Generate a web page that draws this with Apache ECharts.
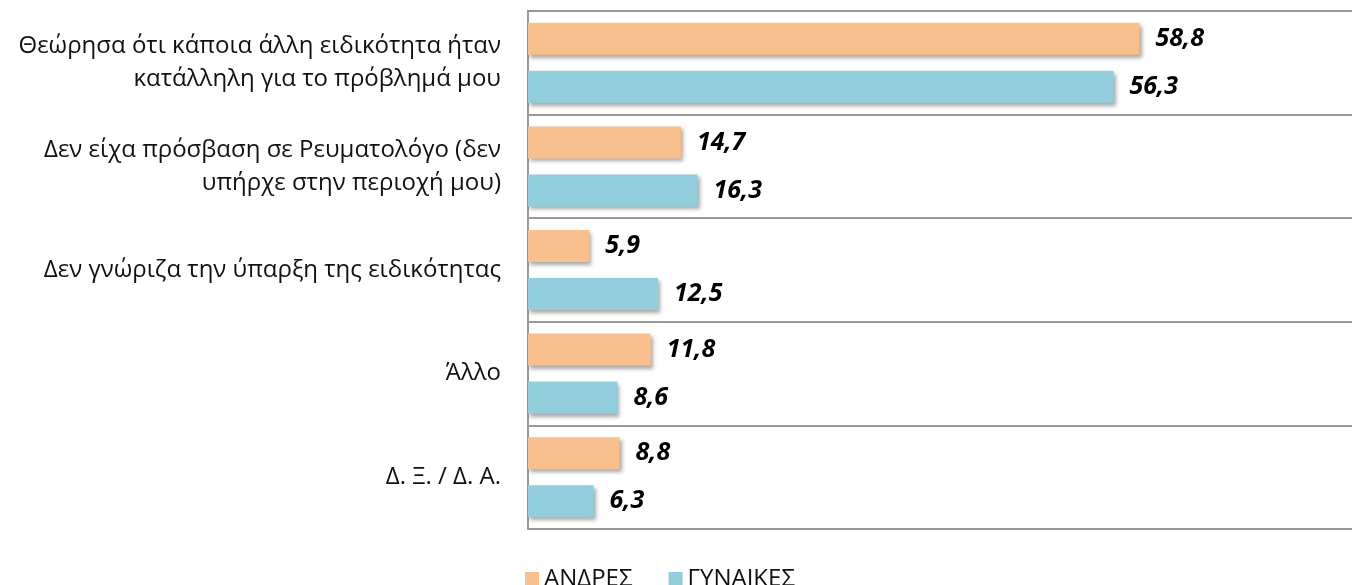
<!DOCTYPE html>
<html>
<head>
<meta charset="utf-8">
<script src="https://cdn.jsdelivr.net/npm/echarts@6/dist/echarts.min.js"></script>
<style>
  html, body { margin: 0; padding: 0; background: #fff; overflow: hidden; }
  /* plot area runs past the right edge of the window, as in the reference */
  #chart { width: 1362px; height: 585px; }
</style>
</head>
<body>
<div id="chart"></div>
<script>
// categories, top to bottom
var categories = [
  'Θεώρησα ότι κάποια άλλη ειδικότητα ήταν\nκατάλληλη για το πρόβλημά μου',
  'Δεν είχα πρόσβαση σε Ρευματολόγο (δεν\nυπήρχε στην περιοχή μου)',
  'Δεν γνώριζα την ύπαρξη της ειδικότητας',
  'Άλλο',
  'Δ. Ξ. / Δ. Α.'
];
var seriesNames = ['ΑΝΔΡΕΣ', 'ΓΥΝΑΙΚΕΣ'];
var men = [58.8, 14.7, 5.9, 11.8, 8.8];
var women = [56.3, 16.3, 12.5, 8.6, 6.3];

var FONT = '"Open Sans", sans-serif';

function barSeries(name, data, color) {
  return {
    name: name,
    type: 'bar',
    data: data,
    barWidth: 32,
    barGap: '50%',
    itemStyle: {
      color: color,
      shadowColor: 'rgba(0,0,0,0.35)',
      shadowBlur: 4,
      shadowOffsetX: 2,
      shadowOffsetY: 3
    },
    label: {
      show: true,
      position: 'right',
      distance: 16,
      color: '#000',
      fontFamily: FONT,
      fontSize: 25,
      fontWeight: 'bold',
      fontStyle: 'italic',
      formatter: function (p) { return p.value.toFixed(1).replace('.', ','); }
    }
  };
}

var myChart = echarts.init(document.getElementById('chart'));
myChart.setOption({
  animation: false,
  textStyle: { fontFamily: FONT },
  grid: {
    left: 528, top: 11, bottom: 56, right: 2,
    show: true, borderColor: '#999', borderWidth: 2
  },
  legend: {
    data: seriesNames,
    left: 520,
    top: 562,
    itemWidth: 14,
    itemHeight: 14,
    itemGap: 36,
    icon: 'rect',
    textStyle: { fontFamily: FONT, fontSize: 24, color: '#111' }
  },
  xAxis: {
    type: 'value',
    min: 0,
    max: 80,
    axisLine: { show: true, lineStyle: { color: '#999', width: 2 } },
    axisTick: { show: false },
    axisLabel: { show: false },
    splitLine: { show: false }
  },
  yAxis: {
    type: 'category',
    inverse: true,
    data: categories,
    axisLine: { show: true, lineStyle: { color: '#999', width: 2 } },
    axisTick: { show: false },
    axisLabel: {
      margin: 27,
      color: '#111',
      fontFamily: FONT,
      fontSize: 24,
      lineHeight: 33,
      align: 'right'
    },
    splitLine: { show: true, lineStyle: { color: '#999', width: 2 } }
  },
  series: [
    barSeries(seriesNames[0], men, '#F9C08F'),
    barSeries(seriesNames[1], women, '#92CDDC')
  ]
});
</script>
</body>
</html>
